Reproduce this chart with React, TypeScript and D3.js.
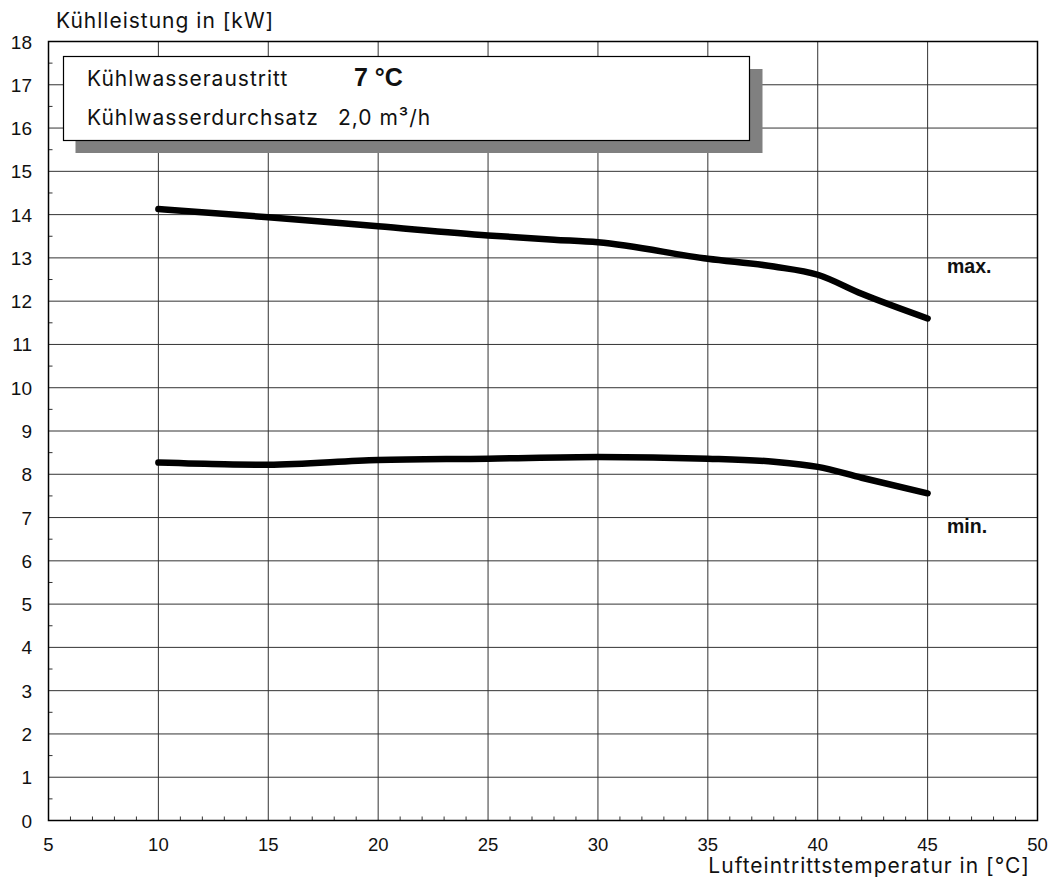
import React from "react";
import * as d3 from "d3";

const xTicks = [5, 10, 15, 20, 25, 30, 35, 40, 45, 50];
const yTicks = d3.range(0, 19);

const maxTemps = [10, 15, 20, 25, 28, 30, 35, 38, 40, 42, 45];
const maxValues = [14.13, 13.94, 13.73, 13.52, 13.42, 13.36, 12.98, 12.8, 12.61, 12.17, 11.6];

const minTemps = [10, 13, 15, 20, 25, 30, 35, 38, 40, 42, 45];
const minValues = [8.27, 8.23, 8.22, 8.33, 8.36, 8.4, 8.36, 8.29, 8.17, 7.92, 7.56];

const legendRow1 = "Kühlwasseraustritt";
const legendRow1Value = "7 °C";
const legendRow2 = "Kühlwasserdurchsatz";
const legendRow2Value = "2,0 m³/h";
const yTitle = "Kühlleistung in [kW]";
const xTitle = "Lufteintrittstemperatur in [°C]";

export default function App() {
  const W = 1054, H = 885;
  const left = 48.5, right = 1037.5, top = 41.5, bottom = 820.5;
  const x = d3.scaleLinear().domain([5, 50]).range([left, right]);
  const y = d3.scaleLinear().domain([0, 18]).range([bottom, top]);
  const font = "'Liberation Sans', Arial, sans-serif";
  const tfont = "Inter, 'Liberation Sans', Arial, sans-serif";

  const line = d3
    .line<[number, number]>()
    .x((d) => x(d[0]))
    .y((d) => y(d[1]))
    .curve(d3.curveMonotoneX);

  const maxPts = maxTemps.map((t, i) => [t, maxValues[i]] as [number, number]);
  const minPts = minTemps.map((t, i) => [t, minValues[i]] as [number, number]);

  const xMinor = d3.range(6, 50).filter((v) => v % 5 !== 0);
  const yMinor = d3.range(0.5, 18, 1);

  return (
    <svg width={W} height={H} style={{ position: "absolute", left: 0, top: 0, background: "#fff" }}>
      {/* grid */}
      {xTicks.slice(1, -1).map((t) => (
        <line key={"gx" + t} x1={x(t)} x2={x(t)} y1={top} y2={bottom} stroke="#333" strokeWidth={1} />
      ))}
      {yTicks.slice(1, -1).map((t) => (
        <line key={"gy" + t} x1={left} x2={right} y1={y(t)} y2={y(t)} stroke="#333" strokeWidth={1} />
      ))}
      {/* minor ticks */}
      {xMinor.map((t) => (
        <line key={"mx" + t} x1={x(t)} x2={x(t)} y1={bottom} y2={bottom - 4} stroke="#333" strokeWidth={1} />
      ))}
      {yMinor.map((t) => (
        <line key={"my" + t} x1={left} x2={left + 4} y1={y(t)} y2={y(t)} stroke="#333" strokeWidth={1} />
      ))}
      {/* frame */}
      <rect x={left} y={top} width={right - left} height={bottom - top} fill="none" stroke="#000" strokeWidth={1.5} />

      {/* legend box */}
      <rect x={75.5} y={69} width={687} height={84} fill="#808080" />
      <rect x={63.5} y={56.5} width={686} height={84} fill="#fff" stroke="#000" strokeWidth={1.2} />
      <text x={87} y={86} fontFamily={tfont} fontSize={21} letterSpacing={1} fill="#111">{legendRow1}</text>
      <text x={354} y={86} fontFamily={font} fontSize={25} fontWeight="bold" fill="#111">{legendRow1Value}</text>
      <text x={87} y={125} fontFamily={tfont} fontSize={21} letterSpacing={1} fill="#111">{legendRow2}</text>
      <text x={338} y={125} fontFamily={tfont} fontSize={21} letterSpacing={1} fill="#111">{legendRow2Value}</text>

      {/* curves */}
      <path d={line(maxPts) ?? ""} fill="none" stroke="#000" strokeWidth={6.5} strokeLinecap="round" strokeLinejoin="round" />
      <path d={line(minPts) ?? ""} fill="none" stroke="#000" strokeWidth={6.5} strokeLinecap="round" strokeLinejoin="round" />
      <text x={947} y={273} fontFamily={font} fontSize={19.5} fontWeight="bold" fill="#111">max.</text>
      <text x={947} y={533} fontFamily={font} fontSize={19.5} fontWeight="bold" fill="#111">min.</text>

      {/* y labels */}
      {yTicks.map((t) => (
        <text key={"yl" + t} x={32} y={y(t) + 7} textAnchor="end" fontFamily={font} fontSize={19} fill="#111">{t}</text>
      ))}
      {/* x labels */}
      {xTicks.map((t) => (
        <text key={"xl" + t} x={x(t)} y={851} textAnchor="middle" fontFamily={font} fontSize={18.5} fill="#111">{t}</text>
      ))}
      <text x={56} y={28} fontFamily={tfont} fontSize={21} letterSpacing={1} fill="#111">{yTitle}</text>
      <text x={1030} y={873} textAnchor="end" fontFamily={tfont} fontSize={21} letterSpacing={1} fill="#111">{xTitle}</text>
    </svg>
  );
}
